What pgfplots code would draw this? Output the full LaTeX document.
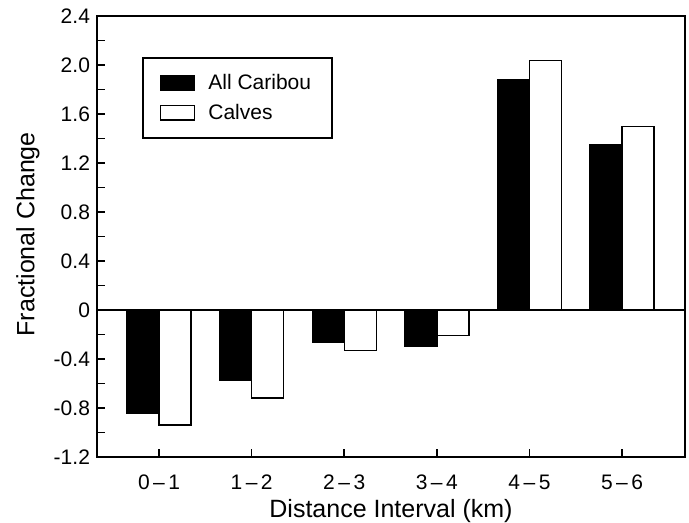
\documentclass[border=0pt]{standalone}
\usepackage{fontspec}
\setmainfont{Liberation Sans}
\usepackage{pgfplots}
\pgfplotsset{compat=1.18}

% 1 px of the reference = 0.5pt
\pgfplotsset{sqbox legend/.style={
    /pgfplots/legend image code/.code={%
      \draw[##1, line width=0.7pt] (0pt,-3.6pt) rectangle (17pt,3.6pt);
      \path (21.5pt,0pt);}}}

\begin{document}
\begin{tikzpicture}
  \useasboundingbox (-48.5pt,-33pt) rectangle (296pt,228.5pt);
  \begin{axis}[
      at={(0pt,0pt)}, anchor=south west,
      width=294pt, height=220.5pt,
      scale only axis=true,
      ybar=0pt, bar width=16pt,
      xmin=-0.67, xmax=5.68,
      ymin=-1.2, ymax=2.4,
      xtick={0,1,2,3,4,5},
      xticklabels={0\,–\,1, 1\,–\,2, 2\,–\,3, 3\,–\,4, 4\,–\,5, 5\,–\,6},
      ytick={-1.2,-0.8,-0.4,0,0.4,0.8,1.2,1.6,2.0,2.4},
      yticklabels={-1.2,-0.8,-0.4,0,0.4,0.8,1.2,1.6,2.0,2.4},
      minor y tick num=1,
      tick pos=left, tick align=inside,
      major tick length=4pt, minor tick length=4pt,
      tick style={line width=0.75pt, black},
      axis line style={line width=0.8pt},
      ticklabel style={font=\fontsize{10.5}{12}\selectfont},
      x tick label style={yshift=-5.5pt},
      xlabel={Distance Interval (km)},
      ylabel={Fractional Change},
      label style={font=\fontsize{12.5}{14}\selectfont},
      x label style={at={(axis description cs:0.5,-0.1225)}, anchor=center},
      y label style={at={(axis description cs:-0.1173,0.505)}, anchor=center},
      legend cell align=left,
      legend style={at={(axis description cs:0.077,0.906)}, anchor=north west,
        draw=black, line width=0.7pt, inner xsep=8.5pt, inner ysep=6pt,
        row sep=1.75pt,
        font=\fontsize{10.5}{12}\selectfont},
    ]
    \addplot[fill=black, draw=black, line width=0.7pt, sqbox legend]
      coordinates {(0,-0.84) (1,-0.57) (2,-0.26) (3,-0.30) (4,1.88) (5,1.35)};
    \addplot[fill=white, draw=black, line width=0.7pt, sqbox legend]
      coordinates {(0,-0.94) (1,-0.72) (2,-0.33) (3,-0.21) (4,2.035) (5,1.50)};
    \legend{All Caribou\hspace{3pt}, Calves\rule[-4.75pt]{0pt}{0pt}}
    \draw[line width=0.8pt] (axis cs:-0.67,0) -- (axis cs:5.68,0);
  \end{axis}
\end{tikzpicture}
\end{document}
